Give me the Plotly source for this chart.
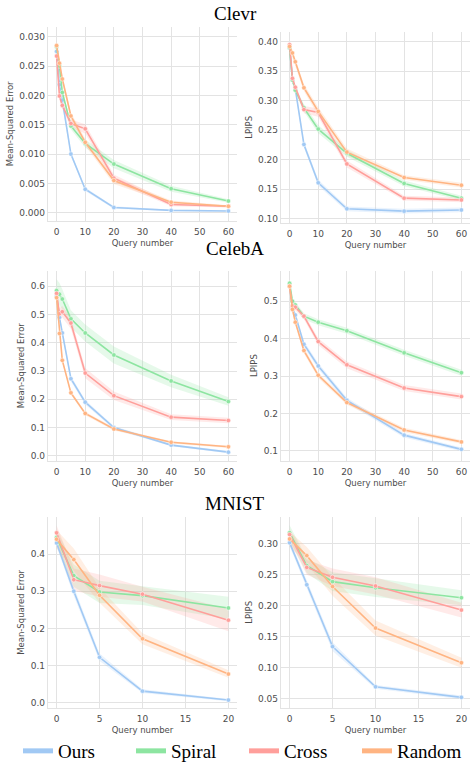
import plotly.graph_objects as go

W, H = 470, 770

METHODS = ["Ours", "Spiral", "Cross", "Random"]
COLORS = ["#a1c9f4", "#8de5a1", "#ff9f9b", "#ffb482"]

X_LONG = [0, 1, 2, 5, 10, 20, 40, 60]
X_SHORT = [0, 2, 5, 10, 20]

# ---- Clevr ----
CLEVR_MSE_OURS = [0.0275, 0.0218, 0.0192, 0.0100, 0.0040, 0.0009, 0.0004, 0.0003]
CLEVR_MSE_SPIRAL = [0.0283, 0.0250, 0.0205, 0.0148, 0.0118, 0.0083, 0.0041, 0.0020]
CLEVR_MSE_CROSS = [0.0267, 0.0199, 0.0183, 0.0152, 0.0143, 0.0059, 0.0014, 0.0011]
CLEVR_MSE_RANDOM = [0.0285, 0.0255, 0.0228, 0.0165, 0.0120, 0.0055, 0.0018, 0.0011]
CLEVR_MSE_ERR_OURS = [0.0008, 0.0006, 0.0005, 0.0004, 0.0003, 0.0002, 0.0001, 0.0001]
CLEVR_MSE_ERR_SPIRAL = [0.0008, 0.0007, 0.0006, 0.0006, 0.0007, 0.0007, 0.0005, 0.0003]
CLEVR_MSE_ERR_CROSS = [0.0008, 0.0007, 0.0006, 0.0007, 0.0008, 0.0006, 0.0003, 0.0002]
CLEVR_MSE_ERR_RANDOM = [0.0008, 0.0007, 0.0006, 0.0006, 0.0006, 0.0006, 0.0003, 0.0002]

CLEVR_LPIPS_OURS = [0.390, 0.335, 0.320, 0.226, 0.161, 0.117, 0.113, 0.115]
CLEVR_LPIPS_SPIRAL = [0.390, 0.335, 0.318, 0.288, 0.252, 0.211, 0.160, 0.135]
CLEVR_LPIPS_CROSS = [0.395, 0.338, 0.323, 0.285, 0.280, 0.193, 0.135, 0.132]
CLEVR_LPIPS_RANDOM = [0.392, 0.381, 0.366, 0.322, 0.282, 0.213, 0.170, 0.157]
CLEVR_LPIPS_ERR_OURS = [0.005, 0.005, 0.005, 0.005, 0.005, 0.004, 0.004, 0.004]
CLEVR_LPIPS_ERR_SPIRAL = [0.005, 0.005, 0.005, 0.006, 0.007, 0.006, 0.005, 0.004]
CLEVR_LPIPS_ERR_CROSS = [0.005, 0.005, 0.005, 0.006, 0.007, 0.006, 0.004, 0.004]
CLEVR_LPIPS_ERR_RANDOM = [0.005, 0.005, 0.005, 0.006, 0.007, 0.006, 0.004, 0.004]

# ---- CelebA ----
CELEBA_MSE_OURS = [0.565, 0.490, 0.435, 0.273, 0.190, 0.100, 0.038, 0.013]
CELEBA_MSE_SPIRAL = [0.585, 0.572, 0.555, 0.485, 0.435, 0.357, 0.265, 0.192]
CELEBA_MSE_CROSS = [0.575, 0.503, 0.510, 0.470, 0.293, 0.213, 0.137, 0.125]
CELEBA_MSE_RANDOM = [0.560, 0.433, 0.338, 0.223, 0.150, 0.095, 0.048, 0.032]
CELEBA_MSE_ERR_OURS = [0.010, 0.010, 0.010, 0.010, 0.008, 0.006, 0.004, 0.004]
CELEBA_MSE_ERR_SPIRAL = [0.040, 0.040, 0.035, 0.030, 0.030, 0.030, 0.022, 0.015]
CELEBA_MSE_ERR_CROSS = [0.020, 0.020, 0.020, 0.020, 0.018, 0.015, 0.010, 0.010]
CELEBA_MSE_ERR_RANDOM = [0.010, 0.008, 0.008, 0.007, 0.006, 0.005, 0.004, 0.004]

CELEBA_LPIPS_OURS = [0.540, 0.480, 0.463, 0.385, 0.327, 0.235, 0.142, 0.104]
CELEBA_LPIPS_SPIRAL = [0.548, 0.500, 0.490, 0.460, 0.444, 0.421, 0.362, 0.309]
CELEBA_LPIPS_CROSS = [0.540, 0.487, 0.484, 0.460, 0.392, 0.330, 0.268, 0.245]
CELEBA_LPIPS_RANDOM = [0.540, 0.478, 0.444, 0.368, 0.302, 0.229, 0.156, 0.124]
CELEBA_LPIPS_ERR_OURS = [0.008, 0.008, 0.008, 0.008, 0.008, 0.007, 0.006, 0.005]
CELEBA_LPIPS_ERR_SPIRAL = [0.008, 0.008, 0.008, 0.008, 0.008, 0.008, 0.008, 0.008]
CELEBA_LPIPS_ERR_CROSS = [0.008, 0.008, 0.008, 0.008, 0.009, 0.009, 0.008, 0.008]
CELEBA_LPIPS_ERR_RANDOM = [0.008, 0.008, 0.008, 0.008, 0.007, 0.006, 0.006, 0.005]

# ---- MNIST ----
MNIST_MSE_OURS = [0.430, 0.300, 0.122, 0.031, 0.007]
MNIST_MSE_SPIRAL = [0.445, 0.342, 0.298, 0.288, 0.255]
MNIST_MSE_CROSS = [0.457, 0.331, 0.315, 0.292, 0.222]
MNIST_MSE_RANDOM = [0.440, 0.385, 0.289, 0.172, 0.077]
MNIST_MSE_ERR_OURS = [0.010, 0.012, 0.010, 0.005, 0.003]
MNIST_MSE_ERR_SPIRAL = [0.020, 0.030, 0.030, 0.025, 0.030]
MNIST_MSE_ERR_CROSS = [0.020, 0.030, 0.030, 0.020, 0.030]
MNIST_MSE_ERR_RANDOM = [0.025, 0.030, 0.020, 0.015, 0.010]

MNIST_LPIPS_OURS = [0.302, 0.234, 0.134, 0.069, 0.052]
MNIST_LPIPS_SPIRAL = [0.318, 0.265, 0.239, 0.229, 0.213]
MNIST_LPIPS_CROSS = [0.315, 0.262, 0.246, 0.232, 0.193]
MNIST_LPIPS_RANDOM = [0.308, 0.281, 0.231, 0.164, 0.108]
MNIST_LPIPS_ERR_OURS = [0.006, 0.006, 0.007, 0.003, 0.003]
MNIST_LPIPS_ERR_SPIRAL = [0.012, 0.012, 0.015, 0.015, 0.012]
MNIST_LPIPS_ERR_CROSS = [0.010, 0.012, 0.014, 0.014, 0.012]
MNIST_LPIPS_ERR_RANDOM = [0.012, 0.014, 0.015, 0.012, 0.008]

TITLES = ["Clevr", "CelebA", "MNIST"]
Y_LABELS = ["Mean-Squared Error", "LPIPS"]
X_LABEL = "Query number"


def rgba(hex_color, a):
    h = hex_color.lstrip("#")
    r, g, b = int(h[0:2], 16), int(h[2:4], 16), int(h[4:6], 16)
    return f"rgba({r},{g},{b},{a})"


panels = [
    dict(x=X_LONG, means=[CLEVR_MSE_OURS, CLEVR_MSE_SPIRAL, CLEVR_MSE_CROSS, CLEVR_MSE_RANDOM],
         errs=[CLEVR_MSE_ERR_OURS, CLEVR_MSE_ERR_SPIRAL, CLEVR_MSE_ERR_CROSS, CLEVR_MSE_ERR_RANDOM],
         yrange=[-0.0014, 0.0317], dtick=0.005, fmt=".3f", xdtick=10, xrange=[-3, 63],
         xdom=[48, 237], ydom=[27, 223], ylabel=Y_LABELS[0]),
    dict(x=X_LONG, means=[CLEVR_LPIPS_OURS, CLEVR_LPIPS_SPIRAL, CLEVR_LPIPS_CROSS, CLEVR_LPIPS_RANDOM],
         errs=[CLEVR_LPIPS_ERR_OURS, CLEVR_LPIPS_ERR_SPIRAL, CLEVR_LPIPS_ERR_CROSS, CLEVR_LPIPS_ERR_RANDOM],
         yrange=[0.093, 0.417], dtick=0.05, fmt=".2f", xdtick=10, xrange=[-3, 63],
         xdom=[281, 470], ydom=[32, 225], ylabel=Y_LABELS[1]),
    dict(x=X_LONG, means=[CELEBA_MSE_OURS, CELEBA_MSE_SPIRAL, CELEBA_MSE_CROSS, CELEBA_MSE_RANDOM],
         errs=[CELEBA_MSE_ERR_OURS, CELEBA_MSE_ERR_SPIRAL, CELEBA_MSE_ERR_CROSS, CELEBA_MSE_ERR_RANDOM],
         yrange=[-0.0175, 0.656], dtick=0.1, fmt=".1f", xdtick=10, xrange=[-3, 63],
         xdom=[48, 237], ydom=[273, 465], ylabel=Y_LABELS[0]),
    dict(x=X_LONG, means=[CELEBA_LPIPS_OURS, CELEBA_LPIPS_SPIRAL, CELEBA_LPIPS_CROSS, CELEBA_LPIPS_RANDOM],
         errs=[CELEBA_LPIPS_ERR_OURS, CELEBA_LPIPS_ERR_SPIRAL, CELEBA_LPIPS_ERR_CROSS, CELEBA_LPIPS_ERR_RANDOM],
         yrange=[0.0735, 0.582], dtick=0.1, fmt=".1f", xdtick=10, xrange=[-3, 63],
         xdom=[281, 470], ydom=[273, 465], ylabel=Y_LABELS[1]),
    dict(x=X_SHORT, means=[MNIST_MSE_OURS, MNIST_MSE_SPIRAL, MNIST_MSE_CROSS, MNIST_MSE_RANDOM],
         errs=[MNIST_MSE_ERR_OURS, MNIST_MSE_ERR_SPIRAL, MNIST_MSE_ERR_CROSS, MNIST_MSE_ERR_RANDOM],
         yrange=[-0.013, 0.499], dtick=0.1, fmt=".1f", xdtick=5, xrange=[-1, 21],
         xdom=[48, 237], ydom=[522, 714], ylabel=Y_LABELS[0]),
    dict(x=X_SHORT, means=[MNIST_LPIPS_OURS, MNIST_LPIPS_SPIRAL, MNIST_LPIPS_CROSS, MNIST_LPIPS_RANDOM],
         errs=[MNIST_LPIPS_ERR_OURS, MNIST_LPIPS_ERR_SPIRAL, MNIST_LPIPS_ERR_CROSS, MNIST_LPIPS_ERR_RANDOM],
         yrange=[0.0356, 0.343], dtick=0.05, fmt=".2f", xdtick=5, xrange=[-1, 21],
         xdom=[281, 470], ydom=[522, 714], ylabel=Y_LABELS[1]),
]

fig = go.Figure()
TICK_FONT = dict(family="DejaVu Sans", size=9, color="#4d4d4d")
LABEL_FONT = dict(family="DejaVu Sans", size=8.5, color="#4d4d4d")
GRID = "#e3e3e3"

layout = dict(
    width=W, height=H, margin=dict(l=0, r=0, t=0, b=0),
    paper_bgcolor="white", plot_bgcolor="white", showlegend=True,
)

for i, p in enumerate(panels):
    n = "" if i == 0 else str(i + 1)
    xa, ya = "x" + n, "y" + n
    for m, (mean, err, col) in enumerate(zip(p["means"], p["errs"], COLORS)):
        lo = [a - e for a, e in zip(mean, err)]
        hi = [a + e for a, e in zip(mean, err)]
        fig.add_trace(go.Scatter(
            x=list(p["x"]) + list(p["x"])[::-1], y=hi + lo[::-1],
            fill="toself", fillcolor=rgba(col, 0.22), line=dict(width=0),
            mode="lines", hoverinfo="skip", showlegend=False, xaxis=xa, yaxis=ya))
    for m, (mean, col) in enumerate(zip(p["means"], COLORS)):
        fig.add_trace(go.Scatter(
            x=p["x"], y=mean, mode="lines+markers",
            line=dict(color=col, width=1.6),
            marker=dict(size=4.5, color=col, line=dict(color="white", width=0.5)),
            name=METHODS[m], showlegend=False, xaxis=xa, yaxis=ya))
    xd = [p["xdom"][0] / W, p["xdom"][1] / W]
    yd = [1 - p["ydom"][1] / H, 1 - p["ydom"][0] / H]
    layout["xaxis" + n] = dict(
        domain=xd, anchor=ya, range=p["xrange"], dtick=p["xdtick"], tick0=0,
        showgrid=True, gridcolor=GRID, gridwidth=1, zeroline=False,
        showline=True, linecolor=GRID, linewidth=1.2, ticks="", ticklabelstandoff=2,
        tickfont=TICK_FONT, title=dict(text=X_LABEL, font=LABEL_FONT, standoff=4),
    )
    layout["yaxis" + n] = dict(
        domain=yd, anchor=xa, range=p["yrange"], dtick=p["dtick"], tick0=0,
        tickformat=p["fmt"], showgrid=True, gridcolor=GRID, gridwidth=1, zeroline=False,
        showline=True, linecolor=GRID, linewidth=1.2, ticks="",
        tickfont=TICK_FONT, title=dict(text=p["ylabel"], font=LABEL_FONT, standoff=4),
    )

# legend entries
for name, col in zip(METHODS, COLORS):
    fig.add_trace(go.Scatter(x=[None], y=[None], mode="lines", name=name,
                             line=dict(color=col, width=5), showlegend=True))

layout["legend"] = dict(
    orientation="h", x=48 / W, xanchor="left", y=1 - 758 / H, yanchor="middle",
    font=dict(family="Liberation Serif", size=19, color="black"),
    entrywidth=68, entrywidthmode="pixels", bgcolor="rgba(0,0,0,0)",
    itemclick=False, itemdoubleclick=False, tracegroupgap=0,
)

title_y = [14, 251, 508]
layout["annotations"] = [
    dict(text=t, x=0.5, y=1 - yy / H, xref="paper", yref="paper", showarrow=False,
         xanchor="center", yanchor="middle",
         font=dict(family="Liberation Serif", size=19, color="black"))
    for t, yy in zip(TITLES, title_y)
]

fig.update_layout(**layout)
fig.write_html(
    "out.html",
    config={"displayModeBar": False, "staticPlot": True},
    post_script="document.body.style.margin='0';document.body.style.overflow='hidden';",
)
